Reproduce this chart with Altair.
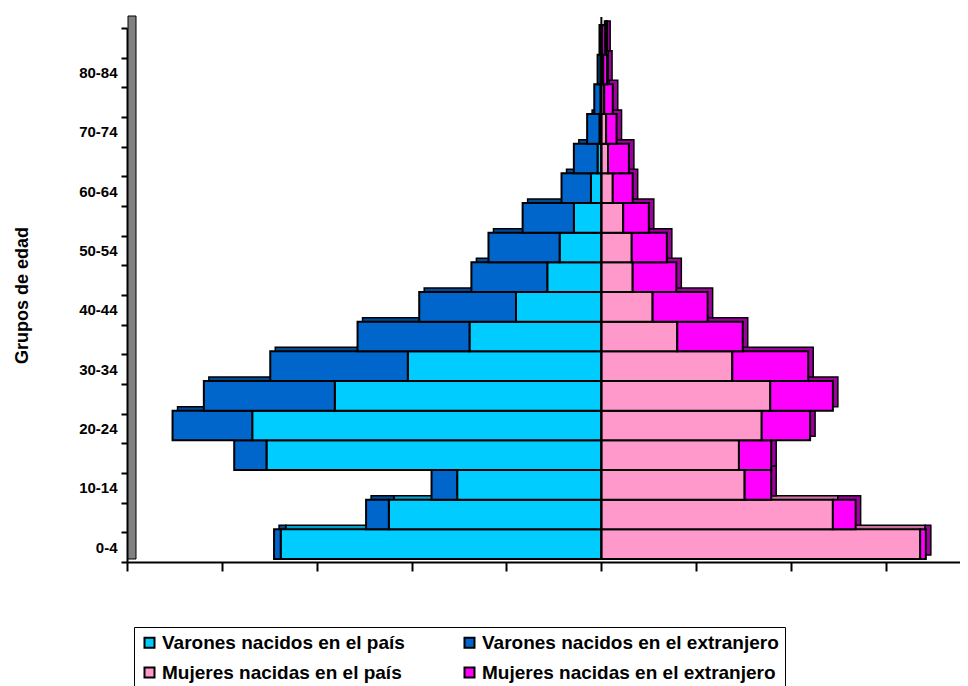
import altair as alt
import pandas as pd

# ---------------- data ----------------
edades = ["0-4", "5-9", "10-14", "15-19", "20-24", "25-29", "30-34", "35-39",
          "40-44", "45-49", "50-54", "55-59", "60-64", "65-69", "70-74",
          "75-79", "80-84", "85+"]
varones_pais = [3.38, 2.24, 1.52, 3.53, 3.68, 2.81, 2.04, 1.39, 0.90, 0.57,
                0.44, 0.29, 0.11, 0.04, 0.02, 0.01, 0.01, 0.005]
varones_extranjero = [0.07, 0.24, 0.27, 0.34, 0.84, 1.38, 1.45, 1.18, 1.02, 0.80,
                      0.75, 0.54, 0.31, 0.25, 0.13, 0.065, 0.03, 0.015]
mujeres_pais = [3.36, 2.44, 1.51, 1.45, 1.69, 1.78, 1.38, 0.80, 0.54, 0.33,
                0.32, 0.23, 0.12, 0.07, 0.05, 0.03, 0.02, 0.01]
mujeres_extranjero = [0.06, 0.24, 0.28, 0.34, 0.51, 0.66, 0.80, 0.69, 0.58, 0.46,
                      0.37, 0.27, 0.21, 0.22, 0.11, 0.09, 0.04, 0.03]

series = ["Varones nacidos en el país", "Varones nacidos en el extranjero",
          "Mujeres nacidas en el país", "Mujeres nacidas en el extranjero"]
colores = ["#00CCFF", "#0066CC", "#FF99CC", "#FF00FF"]
colores_fondo = ["#00A0CC", "#004C99", "#CC6F9F", "#A000A0"]
ticks_x = [-5, -4, -3, -2, -1, 0, 1, 2, 3]
etiquetas_y = edades[::2]

rows = []
for i, e in enumerate(edades):
    rows.append({"edad": e, "serie": series[0], "valor": -varones_pais[i], "orden": 0})
    rows.append({"edad": e, "serie": series[1], "valor": -varones_extranjero[i], "orden": 1})
    rows.append({"edad": e, "serie": series[2], "valor": mujeres_pais[i], "orden": 0})
    rows.append({"edad": e, "serie": series[3], "valor": mujeres_extranjero[i], "orden": 1})
df = pd.DataFrame(rows)

W, H = 833, 534

label_list = "[" + ",".join("'" + s + "'" for s in etiquetas_y) + "]"

x_enc = alt.X(
    "valor:Q", stack="zero",
    scale=alt.Scale(domain=[-5, 3.78], nice=False, zero=False),
    axis=alt.Axis(values=ticks_x, labels=False, title=None, grid=False,
                  tickSize=9, tickWidth=2, tickColor="black",
                  domainColor="black", domainWidth=2),
)
y_enc = alt.Y(
    "edad:N", sort=list(reversed(edades)),
    scale=alt.Scale(paddingInner=0, paddingOuter=0),
    axis=alt.Axis(tickBand="extent", title="Grupos de edad",
                  labelExpr="indexof(" + label_list + ", datum.value) >= 0 ? datum.value : ''",
                  labelFontSize=15, labelFontWeight="bold", labelColor="black",
                  labelPadding=4, tickSize=6, tickWidth=2, tickColor="black",
                  domainColor="black", domainWidth=2,
                  titleFontSize=18, titleFontWeight="bold", titleColor="black",
                  titleX=-100, titleBaseline="alphabetic"),
)
order_enc = alt.Order("orden:Q", sort="ascending")

base = alt.Chart(df)

fondo = base.mark_bar(xOffset=5, yOffset=-7, stroke="black", strokeWidth=1.5).encode(
    x=x_enc, y=y_enc, order=order_enc,
    color=alt.Color("serie:N", scale=alt.Scale(domain=series, range=colores_fondo), legend=None),
)

frente = base.mark_bar(yOffset=-3, stroke="black", strokeWidth=2).encode(
    x=x_enc, y=y_enc, order=order_enc,
    color=alt.Color(
        "serie:N", scale=alt.Scale(domain=series, range=colores),
        legend=alt.Legend(
            title=None, orient="none", legendX=7, legendY=599,
            direction="horizontal", columns=2, columnPadding=55, rowPadding=10,
            strokeColor="black", padding=6, symbolType="square", symbolSize=100,
            symbolStrokeColor="black", symbolStrokeWidth=2, symbolOpacity=1,
            labelFontSize=19, labelFontWeight="bold", labelColor="black",
            labelOffset=3, labelLimit=400,
        ),
    ),
)

pared = alt.Chart(pd.DataFrame({"k": [0]})).mark_rect(
    fill="#808080", stroke="black", strokeWidth=1
).encode(x=alt.value(1), x2=alt.value(9), y=alt.value(-12), y2=alt.value(531))

centro = alt.Chart(pd.DataFrame({"k": [0]})).mark_rule(color="black", strokeWidth=2).encode(
    x=alt.datum(0), y=alt.value(-11), y2=alt.value(531)
)

chart = alt.layer(pared, fondo, frente, centro).resolve_scale(color="independent").properties(
    width=W, height=H,
    autosize=alt.AutoSizeParams(type="none"),
    padding={"left": 119, "top": 20, "right": 0, "bottom": 124},
).configure(font="Liberation Sans").configure_view(stroke=None)

chart.save("out.html", embed_options={"renderer": "svg", "actions": False})
